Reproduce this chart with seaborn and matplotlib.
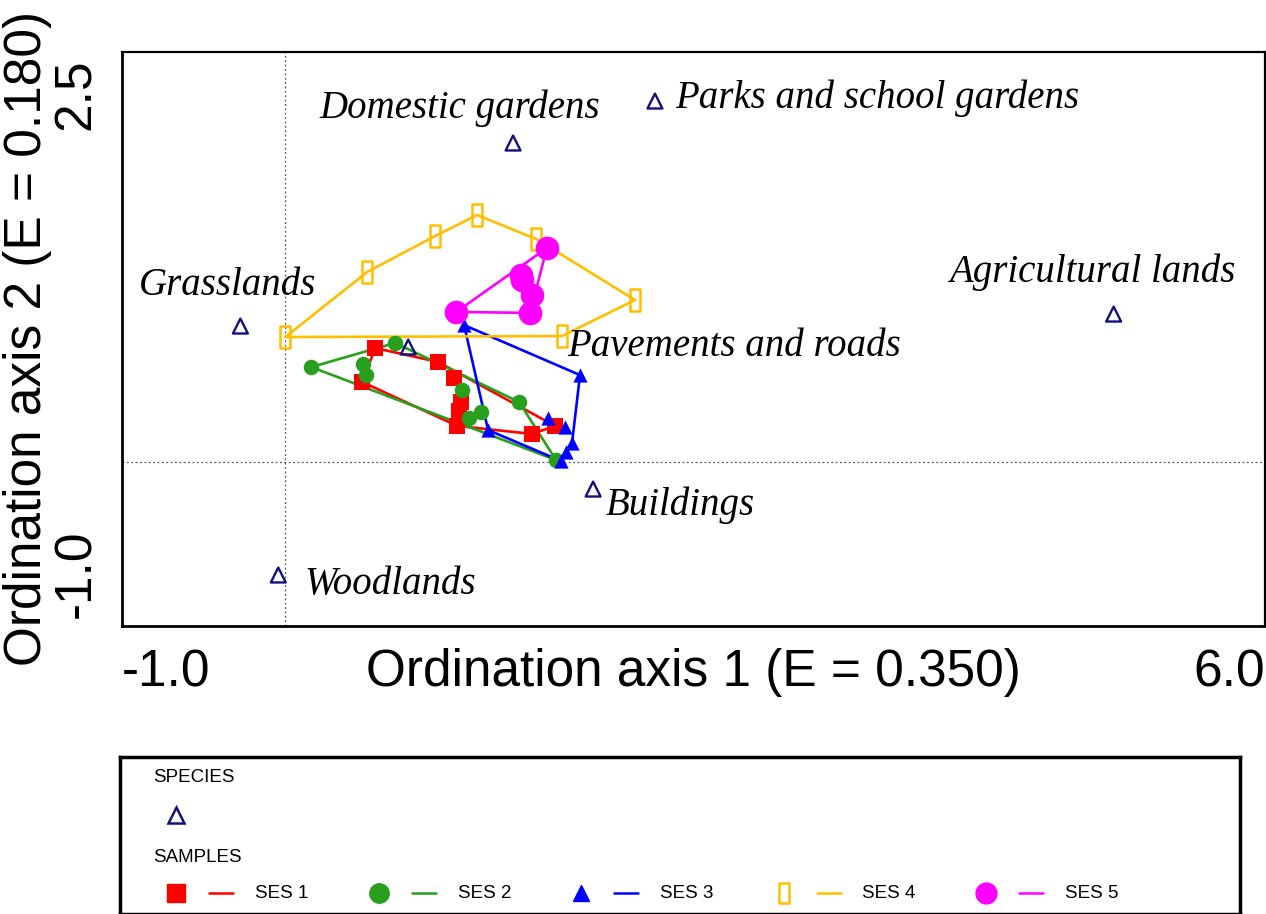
import numpy as np
import pandas as pd
import matplotlib
matplotlib.use("Agg")
import matplotlib.pyplot as plt
from matplotlib.path import Path
from matplotlib.transforms import ScaledTranslation
import seaborn as sns

sns.set_theme(style="white")
plt.rcParams['font.family'] = ['Liberation Sans', 'DejaVu Sans']
plt.rcParams['text.color'] = 'black'
plt.rcParams['axes.labelcolor'] = 'black'

# species (land-use types), ordination scores
species = ["Domestic gardens", "Parks and school gardens", "Grasslands",
           "Agricultural lands", "Pavements and roads", "Buildings", "Woodlands"]
sp_x = [1.395, 2.264, -0.275, 5.073, 0.753, 1.885, -0.043]
sp_y = [1.945, 2.201, 0.829, 0.902, 0.701, -0.165, -0.689]

# samples per SES group
ses1_x = [0.551, 0.936, 1.034, 1.077, 1.065, 0.471, 1.053, 1.512, 1.652]
ses1_y = [0.695, 0.610, 0.512, 0.366, 0.311, 0.488, 0.220, 0.171, 0.220]
ses2_x = [0.673, 0.159, 0.477, 0.496, 1.083, 1.432, 1.200, 1.126, 1.658]
ses2_y = [0.726, 0.579, 0.598, 0.530, 0.439, 0.366, 0.305, 0.268, 0.012]
ses3_x = [1.095, 1.805, 1.610, 1.714, 1.242, 1.756, 1.720, 1.689]
ses3_y = [0.835, 0.530, 0.268, 0.213, 0.195, 0.116, 0.061, 0.006]
ses4_x = [0.000, 0.502, 0.918, 1.175, 1.536, 2.142, 1.695]
ses4_y = [0.762, 1.159, 1.378, 1.506, 1.360, 0.988, 0.768]
ses5_x = [1.602, 1.047, 1.450, 1.444, 1.512, 1.499]
ses5_y = [1.305, 0.915, 1.110, 1.140, 1.018, 0.909]

groups = ["SES 1", "SES 2", "SES 3", "SES 4", "SES 5"]
xs = [ses1_x, ses2_x, ses3_x, ses4_x, ses5_x]
ys = [ses1_y, ses2_y, ses3_y, ses4_y, ses5_y]

colors = ["#ff0000", "#28a01e", "#0000ff", "#ffbf00", "#ff00ff"]
navy = "#14107a"
rect = Path([(-0.45, -1), (0.45, -1), (0.45, 1), (-0.45, 1), (-0.45, -1)],
            [Path.MOVETO, Path.LINETO, Path.LINETO, Path.LINETO, Path.CLOSEPOLY])
markers = ["s", "o", "^", rect, "o"]
sizes = [140, 125, 105, 256, 290]


def hull(px, py):
    pts = sorted(set(zip(px, py)))
    def cross(o, a, b):
        return (a[0]-o[0])*(b[1]-o[1]) - (a[1]-o[1])*(b[0]-o[0])
    lower, upper = [], []
    for p in pts:
        while len(lower) >= 2 and cross(lower[-2], lower[-1], p) <= 0:
            lower.pop()
        lower.append(p)
    for p in reversed(pts):
        while len(upper) >= 2 and cross(upper[-2], upper[-1], p) <= 0:
            upper.pop()
        upper.append(p)
    h = lower[:-1] + upper[:-1]
    h.append(h[0])
    return pd.DataFrame(h, columns=["x", "y"])


W, H = 1266, 914
fig = plt.figure(figsize=(W/100, H/100), dpi=100)
ax = fig.add_axes([122/W, 1-626/H, 1143/W, 574/H])

ax.axvline(0, color="#555555", lw=0.9, ls=(0, (1.5, 2)), zorder=1)
ax.axhline(0, color="#555555", lw=0.9, ls=(0, (1.5, 2)), zorder=1)

for gx, gy, c in zip(xs, ys, colors):
    hd = hull(gx, gy)
    sns.lineplot(data=hd, x="x", y="y", sort=False, estimator=None,
                 color=c, lw=1.9, ax=ax, zorder=2)

for g, gx, gy, c, m, s in zip(groups, xs, ys, colors, markers, sizes):
    df = pd.DataFrame({"x": gx, "y": gy})
    if g == "SES 4":
        sns.scatterplot(data=df, x="x", y="y", marker=m, s=s, facecolor="none",
                        edgecolor=c, linewidth=1.8, ax=ax, zorder=3)
    else:
        sns.scatterplot(data=df, x="x", y="y", marker=m, s=s, color=c,
                        edgecolor=c, linewidth=0, ax=ax, zorder=3)

sp = pd.DataFrame({"x": sp_x, "y": sp_y, "name": species})
sns.scatterplot(data=sp, x="x", y="y", marker="^", s=115, facecolor="none",
                edgecolor=navy, linewidth=1.7, ax=ax, zorder=4)

# label placement (offset in pixels from each species point)
offs = {"Domestic gardens": (-53, 35, "center"),
        "Parks and school gardens": (20, 3, "left"),
        "Grasslands": (-13, 41, "center"),
        "Agricultural lands": (-21, 42, "center"),
        "Pavements and roads": (159, 1, "left"),
        "Buildings": (13, -16, "left"),
        "Woodlands": (26, -10, "left")}
for name, x, y in zip(species, sp_x, sp_y):
    dx, dy, ha = offs[name]
    ax.annotate(name, (x, y), xytext=(dx, dy), textcoords="offset pixels",
                ha=ha, va="center", fontsize=28, style="italic",
                family=["Liberation Serif", "DejaVu Serif"], color="black")

ax.set_xlim(-1, 6)
ax.set_ylim(-1, 2.5)
ax.set_xticks(np.arange(-1, 6.01, 1))
ax.set_xticklabels(["-1.0", "", "", "", "", "", "", "6.0"], fontsize=37)
ax.set_yticks(np.arange(-1, 2.51, 0.5))
ax.set_yticklabels(["-1.0", "", "", "", "", "", "", "2.5"], fontsize=37, rotation=90)
ax.tick_params(axis="x", direction="inout", length=10, width=1.4, pad=11.5, colors="black")
ax.tick_params(axis="y", direction="inout", length=10, width=1.4, pad=10, colors="black")
xl = ax.get_xticklabels()
xl[0].set_ha("left")
xl[-1].set_ha("right")
yl = ax.get_yticklabels()
yl[0].set_va("bottom")
yl[-1].set_va("top")
yl[0].set_transform(yl[0].get_transform() + ScaledTranslation(0, 8/100, fig.dpi_scale_trans))
yl[-1].set_transform(yl[-1].get_transform() + ScaledTranslation(0, -6/100, fig.dpi_scale_trans))

ax.set_xlabel("Ordination axis 1 (E = 0.350)", fontsize=37, color="black")
ax.set_ylabel("Ordination axis 2 (E = 0.180)", fontsize=37, color="black")
ax.xaxis.set_label_coords(0.5, -0.038)
ax.xaxis.label.set_va("top")
ax.yaxis.set_label_coords(-0.061, 0.5)

for k, sline in ax.spines.items():
    sline.set_color("black")
    sline.set_linewidth(1.6)
ax.spines["bottom"].set_linewidth(2)
ax.spines["left"].set_linewidth(2)

# legend box
lax = fig.add_axes([120/W, 0, 1120/W, 157/H])
lax.set_xlim(120, 1240)
lax.set_ylim(914, 757)
lax.set_xticks([])
lax.set_yticks([])
for sline in lax.spines.values():
    sline.set_color("black")
    sline.set_linewidth(2.5)

lax.text(153, 778, "SPECIES", fontsize=13.5, va="center", ha="left", color="black")
lax.plot([176], [815], marker="^", ms=11, mfc="none", mec=navy, mew=1.8)
lax.text(153, 858, "SAMPLES", fontsize=13.5, va="center", ha="left", color="black")
leg_ms = [12.5, 14, 12, 15, 15]
for i, (g, c, m) in enumerate(zip(groups, colors, markers)):
    x0 = 176 + i * 202.5
    if g == "SES 4":
        lax.plot([x0], [893], marker=m, ms=leg_ms[i], mfc="none", mec=c, mew=1.8)
    else:
        lax.plot([x0], [893], marker=m, ms=leg_ms[i], color=c, mec=c)
    lax.plot([x0 + 33, x0 + 57], [893, 893], color=c, lw=1.8)
    lax.text(x0 + 79, 893, g, fontsize=13.5, va="center", ha="left", color="black")

fig.savefig("out.png", dpi=100)
